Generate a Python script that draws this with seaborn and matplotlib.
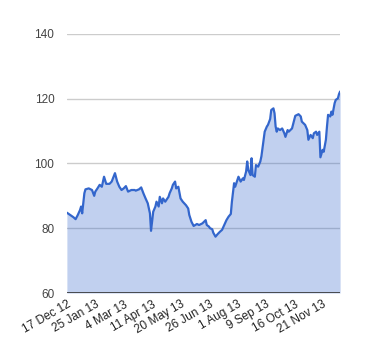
import numpy as np
import pandas as pd
import matplotlib
matplotlib.use("Agg")
import matplotlib.pyplot as plt
import seaborn as sns

# Dia de cotizacion (indice) y precio
dias = [0, 3, 6, 8, 10, 12, 13, 14, 16, 17, 20, 23, 25, 26, 28, 30, 32, 34, 36, 39,
        41, 44, 46, 48, 50, 52, 54, 56, 59, 62, 63, 66, 68, 70, 72, 74, 76, 77, 79, 81,
        82, 84, 85, 87, 88, 90, 93, 94, 96, 97, 99, 100, 102, 104, 106, 109, 111, 112, 114, 116,
        119, 121, 124, 127, 128, 130, 131, 133, 134, 136, 138, 140, 142, 144, 146, 148, 150, 151, 153, 154,
        156, 157, 159, 161, 162, 164, 165, 166, 168, 169, 170, 172, 173, 175, 177, 178, 180, 181, 183, 184,
        186, 187, 189, 190, 191, 192, 193, 195, 197, 199, 200, 202, 203, 206, 208, 209, 212, 214, 215, 218,
        220, 221, 223, 225, 226, 228, 229, 231, 232, 234, 235, 237, 238, 239, 241, 242, 243, 245, 246, 248,
        249, 250]
precio = [84.8, 84.1, 83.4, 82.8, 84.1, 85.6, 86.7, 84.6, 90.8, 92.0, 92.3, 91.8, 90.0, 91.3, 92.3, 93.4, 92.8, 95.9, 93.7, 93.7,
          94.4, 97.0, 94.4, 92.8, 91.8, 92.3, 93.0, 91.3, 91.8, 91.8, 91.6, 92.0, 92.6, 90.8, 89.2, 87.7, 84.6, 79.2, 85.1, 86.7,
          88.2, 86.7, 89.7, 87.7, 89.2, 88.2, 89.7, 90.8, 92.3, 93.4, 94.4, 92.3, 92.8, 89.2, 88.2, 87.1, 86.1, 84.1, 82.0, 80.7,
          81.3, 81.0, 81.5, 82.5, 81.0, 80.5, 80.0, 79.7, 78.6, 77.4, 78.2, 78.9, 79.5, 81.0, 82.5, 83.6, 84.4, 88.2, 93.9, 92.8,
          94.9, 95.9, 94.4, 95.4, 94.9, 97.5, 100.6, 98.0, 96.4, 101.6, 96.4, 95.9, 99.5, 99.0, 100.6, 102.2, 107.3, 109.8, 111.4, 111.9,
          113.7, 116.5, 117.0, 115.5, 111.4, 109.8, 110.8, 110.3, 110.8, 109.3, 108.2, 110.3, 109.8, 110.8, 113.4, 114.7, 115.2, 114.5, 112.9, 111.9,
          110.3, 107.3, 108.8, 107.8, 109.3, 109.8, 108.8, 109.8, 101.9, 104.2, 103.6, 107.3, 111.4, 115.0, 114.5, 116.0, 115.0, 118.6, 119.6, 120.1,
          121.4, 122.2]

etiquetas = ["17 Dec 12", "25 Jan 13", "4 Mar 13", "11 Apr 13", "20 May 13",
             "26 Jun 13", "1 Aug 13", "9 Sep 13", "16 Oct 13", "21 Nov 13"]
paso_etiquetas = 26
valores_y = [60, 80, 100, 120, 140]

df = pd.DataFrame({"dia": dias, "precio": precio})

sns.set_style("white")
plt.rcParams['font.family'] = ['Liberation Sans', 'DejaVu Sans']

fig = plt.figure(figsize=(3.8, 3.6), dpi=100)
ax = fig.add_axes([0.176, 0.186, 0.719, 0.72])

# Lineas de la grilla
for v in valores_y[1:]:
    ax.axhline(v, color='#cccccc', lw=1, zorder=0)

ax.fill_between(df["dia"], df["precio"], 60, color='#3366cc', alpha=0.3, lw=0, zorder=1)
sns.lineplot(data=df, x="dia", y="precio", ax=ax, color='#3366cc', lw=1.6, zorder=2)
ax.axhline(60, color='#333333', lw=1.2, zorder=3)

ax.set_xlim(0, df["dia"].max())
ax.set_ylim(60, 140)
ax.set_yticks(valores_y)
ax.set_yticklabels([str(v) for v in valores_y], fontsize=8.5, color='#444444')
ax.set_xticks([i * paso_etiquetas for i in range(len(etiquetas))])
ax.set_xticklabels(etiquetas, rotation=30, ha='right', rotation_mode='anchor',
                   fontsize=8.5, color='#222222')
ax.tick_params(axis='both', length=0, pad=9)
ax.tick_params(axis='x', pad=4)
ax.set_xlabel("")
ax.set_ylabel("")
for s in ax.spines.values():
    s.set_visible(False)

plt.savefig('out.png', dpi=100)
